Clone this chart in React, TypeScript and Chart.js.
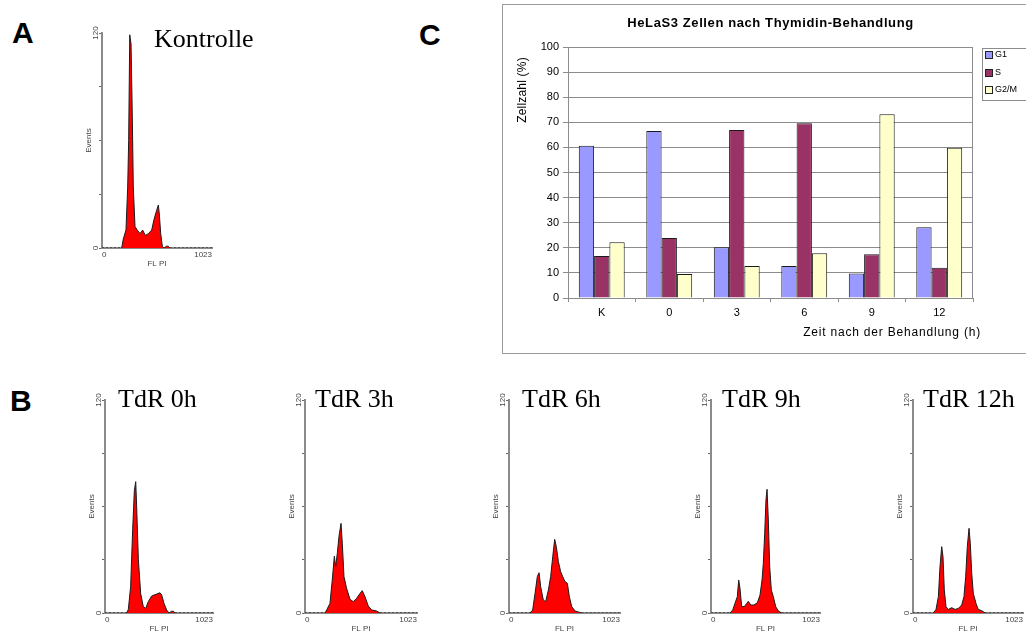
import React, { useEffect, useRef } from 'react';
import { Chart, registerables } from 'chart.js';

Chart.register(...registerables);

const SANS = '"Liberation Sans", Arial, sans-serif';
const SERIF = '"Liberation Serif", "Times New Roman", serif';
Chart.defaults.font.family = SANS;

// ---------------- Panel C data ----------------
const timeCategories = ['K', '0', '3', '6', '9', '12'];
const g1Values = [60.7, 66.5, 20.2, 12.7, 9.8, 28.2];
const sValues = [16.7, 23.9, 66.9, 69.6, 17.4, 12.1];
const g2mValues = [22.2, 9.6, 12.7, 17.8, 73.2, 59.9];
const phaseLabels = ['G1', 'S', 'G2/M'];
const phaseColors = ['#9999FF', '#993366', '#FFFFCC'];
const barTitle = 'HeLaS3 Zellen nach Thymidin-Behandlung';
const barYTitle = 'Zellzahl (%)';
const barXTitle = 'Zeit nach der Behandlung (h)';
const barYTicks = [0, 10, 20, 30, 40, 50, 60, 70, 80, 90, 100];

// ---------------- Histogram data (FL PI channel, events) ----------------
const histXTicks = [0, 1023];
const histYTicks = [0, 30, 60, 90, 120];
const histYLabels = [0, 120];

const flKontrolle = [0, 183, 198, 223, 239, 248, 258, 270, 282, 291, 307, 328, 353, 378, 403, 431, 462, 484, 508, 524, 533, 546, 561, 577, 600, 616, 632, 1023];
const evKontrolle = [0, 0, 5, 10, 34, 60, 119, 114, 73, 34, 12, 10, 8, 10, 7, 8, 10, 16, 21, 24, 19, 8, 1, 0, 1, 1, 0, 0];

const fl0h = [0, 205, 221, 243, 262, 278, 291, 300, 316, 338, 363, 385, 410, 442, 483, 521, 537, 559, 584, 606, 632, 648, 663, 1023];
const ev0h = [0, 0, 2, 15, 47, 69, 74, 60, 30, 11, 3.5, 2.6, 6.4, 9.6, 10.5, 11.4, 10.1, 5.4, 1.7, 0, 1, 1, 0, 0];

const fl3h = [0, 183, 198, 228, 249, 268, 280, 295, 310, 329, 341, 356, 380, 411, 441, 472, 502, 523, 548, 578, 609, 655, 685, 1023];
const ev3h = [0, 0, 1.7, 5.4, 18.6, 32, 26, 33.6, 43, 50.5, 39, 20.5, 13.9, 7.7, 6.4, 8.3, 11, 12.6, 9.2, 3.9, 1.7, 1.1, 0, 0];

const fl6h = [0, 194, 218, 240, 261, 277, 292, 316, 338, 363, 384, 403, 421, 436, 455, 476, 495, 516, 538, 556, 578, 609, 639, 670, 1023];
const ev6h = [0, 0, 1.7, 11, 20.5, 22.7, 14.8, 7.3, 6.4, 13, 20.5, 31.7, 41.5, 37.4, 29, 23.3, 20.5, 17.7, 16.7, 9.2, 3.6, 1.1, 0.6, 0, 0];

const fl9h = [0, 178, 204, 225, 247, 260, 272, 288, 313, 335, 350, 373, 404, 435, 460, 479, 491, 504, 516, 526, 538, 551, 566, 585, 607, 632, 664, 1023];
const ev9h = [0, 0, 1.7, 5.4, 9.2, 18.6, 13.9, 3.6, 3.6, 5.4, 6.6, 4.5, 4.5, 5.8, 10.1, 18.6, 28, 44.9, 63.7, 69.7, 52.4, 26, 13, 9.2, 3.6, 1.1, 0, 0];

const fl12h = [0, 189, 214, 236, 251, 267, 279, 291, 307, 328, 360, 391, 422, 453, 474, 490, 505, 521, 533, 546, 561, 586, 607, 639, 670, 1023];
const ev12h = [0, 0, 2, 9.2, 26, 37.4, 31.7, 13, 3.6, 2, 3, 2, 2.6, 4.5, 9.2, 20.5, 37.4, 47.7, 39.2, 22.4, 11, 5.4, 2, 1.3, 0, 0];

// ---------------- Layout (page pixels) ----------------
type Rect = { l: number; t: number; r: number; b: number };
const HIST_PAD = { left: 24, top: 12, right: 12, bottom: 30 };

const histPanels: { plot: Rect; xs: number[]; ys: number[]; title: string; titleLeft: number; titleTop: number }[] = [
  { plot: { l: 102, t: 33, r: 212, b: 248 }, xs: flKontrolle, ys: evKontrolle, title: 'Kontrolle', titleLeft: 154, titleTop: 26 },
  { plot: { l: 105, t: 400, r: 213, b: 613 }, xs: fl0h, ys: ev0h, title: 'TdR 0h', titleLeft: 118, titleTop: 386 },
  { plot: { l: 305, t: 400, r: 417, b: 613 }, xs: fl3h, ys: ev3h, title: 'TdR 3h', titleLeft: 315, titleTop: 386 },
  { plot: { l: 509, t: 400, r: 620, b: 613 }, xs: fl6h, ys: ev6h, title: 'TdR 6h', titleLeft: 522, titleTop: 386 },
  { plot: { l: 711, t: 400, r: 820, b: 613 }, xs: fl9h, ys: ev9h, title: 'TdR 9h', titleLeft: 722, titleTop: 386 },
  { plot: { l: 913, t: 400, r: 1023, b: 613 }, xs: fl12h, ys: ev12h, title: 'TdR 12h', titleLeft: 923, titleTop: 386 },
];

const panelLetters = [
  { text: 'A', left: 12, top: 18 },
  { text: 'B', left: 10, top: 386 },
  { text: 'C', left: 419, top: 20 },
];

const BAR_BOX = { left: 502, top: 4, canvasW: 560, canvasH: 348 };
const BAR_AREA = { left: 65, top: 42, right: 470, bottom: 293 };

function Histogram({ plot, xs, ys }: { plot: Rect; xs: number[]; ys: number[] }) {
  const ref = useRef<HTMLCanvasElement | null>(null);
  const w = plot.r - plot.l + HIST_PAD.left + HIST_PAD.right;
  const h = plot.b - plot.t + HIST_PAD.top + HIST_PAD.bottom;
  useEffect(() => {
    if (!ref.current) return;
    const axisColor = '#8a8a8a';
    const textColor = '#444';
    const chart = new Chart(ref.current, {
      type: 'line',
      data: {
        datasets: [
          {
            data: xs.map((x, i) => ({ x, y: ys[i] })),
            fill: 'origin',
            backgroundColor: '#ff0000',
            borderColor: '#1a1a1a',
            borderWidth: 1,
            pointRadius: 0,
            tension: 0,
            segment: {
              borderDash: (c: any) => (c.p0.parsed.y === 0 && c.p1.parsed.y === 0 ? [2, 2] : undefined),
            },
          } as any,
        ],
      },
      options: {
        animation: false,
        responsive: false,
        devicePixelRatio: 1,
        layout: { padding: { left: 0, top: HIST_PAD.top, right: HIST_PAD.right, bottom: 0 } },
        plugins: { legend: { display: false }, tooltip: { enabled: false } },
        scales: {
          x: {
            type: 'linear',
            min: 0,
            max: 1023,
            afterBuildTicks: (s: any) => {
              s.ticks = histXTicks.map((v) => ({ value: v }));
            },
            afterFit: (s: any) => {
              s.height = HIST_PAD.bottom;
            },
            grid: { display: false, drawTicks: false },
            border: { color: axisColor, width: 2 },
            ticks: {
              align: 'inner',
              padding: 2,
              maxRotation: 0,
              autoSkip: false,
              color: textColor,
              font: { family: SANS, size: 8 },
              callback: (v: any) => String(v),
            },
            title: {
              display: true,
              text: 'FL PI',
              color: textColor,
              font: { family: SANS, size: 8 },
              padding: { top: 0, bottom: 9 },
            },
          } as any,
          y: {
            min: 0,
            max: 120,
            afterBuildTicks: (s: any) => {
              s.ticks = histYTicks.map((v) => ({ value: v }));
            },
            afterFit: (s: any) => {
              s.width = HIST_PAD.left;
            },
            grid: { display: true, drawOnChartArea: false, drawTicks: true, tickLength: 3, color: '#666' },
            border: { color: axisColor, width: 2 },
            ticks: {
              minRotation: 90,
              maxRotation: 90,
              crossAlign: 'center',
              padding: -3.5,
              color: textColor,
              font: { family: SANS, size: 8 },
              callback: (v: any) => (histYLabels.includes(Number(v)) ? String(v) : ''),
            },
            title: {
              display: true,
              text: 'Events',
              color: textColor,
              font: { family: SANS, size: 8 },
              padding: { top: 6, bottom: 0 },
            },
          } as any,
        },
      },
    });
    return () => chart.destroy();
  }, []);
  return (
    <canvas
      ref={ref}
      width={w}
      height={h}
      style={{ position: 'absolute', left: plot.l - HIST_PAD.left, top: plot.t - HIST_PAD.top, width: w, height: h }}
    />
  );
}

const panelCDecor = {
  id: 'panelCDecor',
  afterDraw(chart: any) {
    const { ctx, chartArea: a } = chart;
    ctx.save();
    // plot frame
    ctx.strokeStyle = '#8c8c8c';
    ctx.lineWidth = 1;
    ctx.strokeRect(a.left + 0.5, a.top + 0.5, a.right - a.left - 1, a.bottom - a.top);
    ctx.fillStyle = '#000';
    // title
    ctx.font = `bold 13px ${SANS}`;
    ctx.textAlign = 'center';
    ctx.textBaseline = 'middle';
    (ctx as any).letterSpacing = '0.6px';
    ctx.fillText(barTitle, (a.left + a.right) / 2, 18);
    // x title
    ctx.font = `12px ${SANS}`;
    (ctx as any).letterSpacing = '0.8px';
    ctx.textAlign = 'right';
    ctx.fillText(barXTitle, a.right + 8, a.bottom + 35);
    // y title
    (ctx as any).letterSpacing = '0.2px';
    ctx.save();
    ctx.translate(20, a.top + 43);
    ctx.rotate(-Math.PI / 2);
    ctx.textAlign = 'center';
    ctx.fillText(barYTitle, 0, 0);
    ctx.restore();
    (ctx as any).letterSpacing = '0px';
    // legend
    const lx = a.right + 9;
    const ly = a.top + 1;
    ctx.strokeStyle = '#8c8c8c';
    ctx.strokeRect(lx + 0.5, ly + 0.5, 70, 52);
    ctx.font = `9px ${SANS}`;
    ctx.textAlign = 'left';
    ctx.textBaseline = 'middle';
    chart.data.datasets.forEach((ds: any, i: number) => {
      const cy = ly + 7 + i * 17.5;
      ctx.fillStyle = ds.backgroundColor;
      ctx.fillRect(lx + 4, Math.round(cy - 3), 6, 6);
      ctx.strokeStyle = '#222';
      ctx.strokeRect(lx + 3.5, Math.round(cy - 3) - 0.5, 7, 7);
      ctx.fillStyle = '#000';
      ctx.fillText(ds.label, lx + 13, cy);
    });
    ctx.restore();
  },
};

function BarPanel() {
  const ref = useRef<HTMLCanvasElement | null>(null);
  useEffect(() => {
    if (!ref.current) return;
    const series = [g1Values, sValues, g2mValues];
    const gridColor = '#8c8c8c';
    const chart = new Chart(ref.current, {
      type: 'bar',
      data: {
        labels: timeCategories,
        datasets: series.map((vals, i) => ({
          label: phaseLabels[i],
          data: vals,
          backgroundColor: phaseColors[i],
          borderColor: '#1a1a1a',
          borderWidth: 1,
          categoryPercentage: 0.68,
          barPercentage: 1.0,
        })),
      },
      options: {
        animation: false,
        responsive: false,
        devicePixelRatio: 1,
        layout: {
          padding: {
            left: BAR_AREA.left - 65,
            top: BAR_AREA.top,
            right: BAR_BOX.canvasW - BAR_AREA.right,
            bottom: 0,
          },
        },
        plugins: { legend: { display: false }, tooltip: { enabled: false }, title: { display: false } },
        scales: {
          x: {
            afterFit: (s: any) => {
              s.height = BAR_BOX.canvasH - BAR_AREA.bottom;
            },
            grid: { display: true, drawOnChartArea: false, drawTicks: true, tickLength: 4, color: gridColor, offset: true },
            border: { color: gridColor, width: 1 },
            ticks: { color: '#000', padding: 4, font: { family: SANS, size: 11 } },
          },
          y: {
            min: 0,
            max: 100,
            afterBuildTicks: (s: any) => {
              s.ticks = barYTicks.map((v) => ({ value: v }));
            },
            afterFit: (s: any) => {
              s.width = 65;
            },
            grid: { color: gridColor, drawTicks: true, tickLength: 5 },
            border: { color: gridColor, width: 1 },
            ticks: { color: '#000', padding: 4, font: { family: SANS, size: 11 } },
          },
        },
      },
      plugins: [panelCDecor],
    });
    return () => chart.destroy();
  }, []);
  return (
    <div
      style={{
        position: 'absolute',
        left: BAR_BOX.left,
        top: BAR_BOX.top,
        width: BAR_BOX.canvasW,
        height: BAR_BOX.canvasH,
        border: '1px solid #9a9a9a',
        background: '#fff',
      }}
    >
      <canvas
        ref={ref}
        width={BAR_BOX.canvasW}
        height={BAR_BOX.canvasH}
        style={{ display: 'block', width: BAR_BOX.canvasW, height: BAR_BOX.canvasH }}
      />
    </div>
  );
}

export default function App() {
  return (
    <div
      style={{
        position: 'absolute',
        left: 0,
        top: 0,
        width: 1026,
        height: 632,
        overflow: 'hidden',
        background: '#fff',
      }}
    >
      {panelLetters.map((p) => (
        <div
          key={p.text}
          style={{
            position: 'absolute',
            left: p.left,
            top: p.top,
            font: `bold 30px ${SANS}`,
            lineHeight: '30px',
            color: '#000',
            whiteSpace: 'nowrap',
          }}
        >
          {p.text}
        </div>
      ))}
      {histPanels.map((p, i) => (
        <React.Fragment key={i}>
          <Histogram plot={p.plot} xs={p.xs} ys={p.ys} />
          <div
            style={{
              position: 'absolute',
              left: p.titleLeft,
              top: p.titleTop,
              font: `26px ${SERIF}`,
              lineHeight: '26px',
              color: '#000',
              whiteSpace: 'nowrap',
            }}
          >
            {p.title}
          </div>
        </React.Fragment>
      ))}
      <BarPanel />
    </div>
  );
}
